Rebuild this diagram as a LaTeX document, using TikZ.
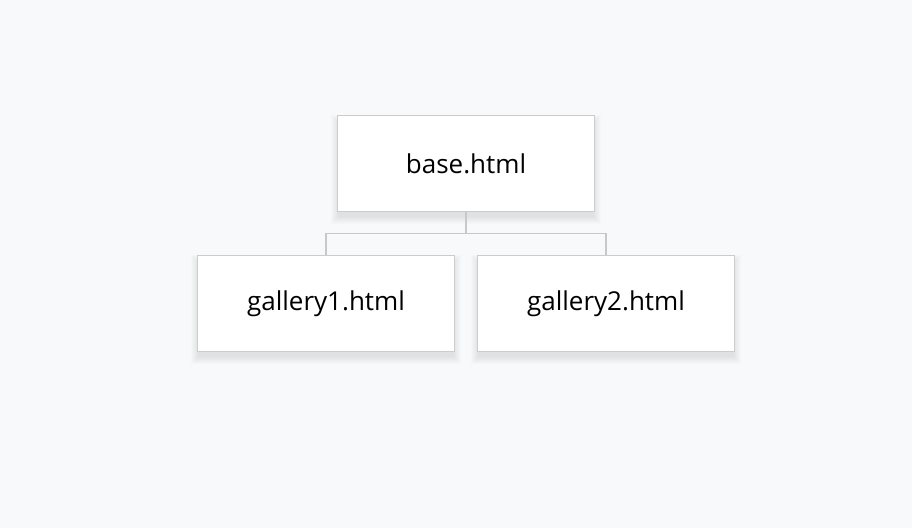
\documentclass[tikz,border=0pt]{standalone}
\usepackage{fontspec}
\setmainfont{Open Sans}
\usetikzlibrary{calc}
\definecolor{bg}{HTML}{F8F9FB}
\definecolor{boxline}{HTML}{CCCCCC}
\definecolor{conn}{HTML}{C8C8C8}
\begin{document}
\begin{tikzpicture}[x=1pt,y=-1pt,
  filebox/.style={draw=boxline, line width=1.8pt, fill=white, minimum width=257pt, minimum height=96pt, inner sep=0pt, font=\fontsize{26}{30}\selectfont, text=black},
  connector/.style={draw=conn, line width=1.8pt}]
\fill[bg] (0,0) rectangle (912,528);
\useasboundingbox (0,0) rectangle (912,528);
% soft shadows
\foreach \cx/\cy in {466/163.5, 326/303.5, 606/303.5}{
  \foreach \i in {1,...,8}{
    \fill[black, opacity=0.010] (\cx-129-\i+2,\cy-48+4-\i+3) rectangle (\cx+129+\i-2,\cy+48+4+\i);
  }
}
\node[filebox] (base) at (466,163.5) {base.html};
\node[filebox] (g1) at (326,303.5) {gallery1.html};
\node[filebox] (g2) at (606,303.5) {gallery2.html};
\coordinate (mid) at ($(base.south)!0.5!(base.south |- g1.north)$);
\draw[connector] (base.south) -- (mid);
\draw[connector] (g1.north) -- (g1.north |- mid) -- (g2.north |- mid) -- (g2.north);
\end{tikzpicture}
\end{document}
